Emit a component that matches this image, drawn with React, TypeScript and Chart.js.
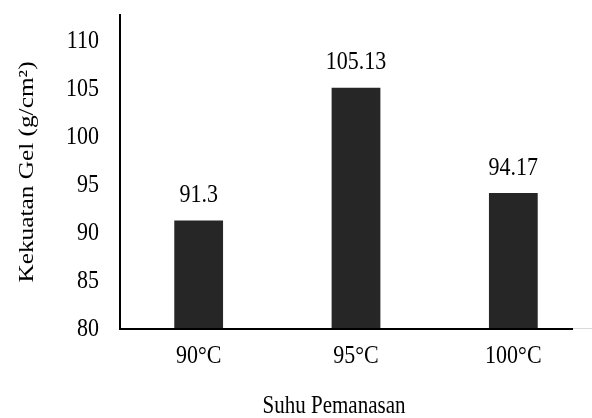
import React, { useEffect, useRef } from "react";
import { Chart, registerables } from "chart.js";

Chart.register(...registerables);

const categories = ["90°C", "95°C", "100°C"];
const gelStrength = [91.3, 105.13, 94.17];
const valueLabels = ["91.3", "105.13", "94.17"];
const yTicks = [80, 85, 90, 95, 100, 105, 110];
const yMin = 80;
const yMax = 112.7;

const FONT = '"Liberation Serif", "Times New Roman", serif';
const TEXT = "#000000";
const BAR = "#262626";
const STRETCH = 1.15; // glyphs are set slightly taller than wide

function drawText(ctx: any, text: string, x: number, y: number, align: string, size = 22) {
  ctx.save();
  ctx.font = `${size}px ${FONT}`;
  ctx.textAlign = align;
  ctx.textBaseline = "middle";
  ctx.translate(x, y);
  ctx.scale(1, STRETCH);
  ctx.fillText(text, 0, 0);
  ctx.restore();
}

const textPlugin = {
  id: "gelText",
  afterDatasetsDraw(chart: any) {
    const ctx = chart.ctx;
    const meta = chart.getDatasetMeta(0);
    const area = chart.chartArea;
    const xs = chart.scales.x;
    const ys = chart.scales.y;
    ctx.save();
    ctx.fillStyle = TEXT;

    // x axis line: light rule across, dark rule under the categories
    ctx.fillStyle = "#d9d9d9";
    ctx.fillRect(area.left, area.bottom - 1, area.right - area.left, 1);
    ctx.fillStyle = "#000000";
    ctx.fillRect(area.left, area.bottom - 1, area.right - area.left - 19, 2);

    ctx.fillStyle = TEXT;
    // value labels above bars
    meta.data.forEach((bar: any, i: number) => {
      drawText(ctx, valueLabels[i], bar.x, bar.y - 25, "center");
    });
    // y tick labels
    yTicks.forEach((v) => {
      drawText(ctx, String(v), area.left - 21, ys.getPixelForValue(v), "right");
    });
    // category labels
    categories.forEach((c, i) => {
      drawText(ctx, c, xs.getPixelForValue(i), area.bottom + 27, "center");
    });
    // x-axis title
    drawText(ctx, "Suhu Pemanasan", (area.left + area.right) / 2 - 22, 407, "center", 21);
    // y-axis title, rotated
    ctx.save();
    ctx.font = `22px ${FONT}`;
    ctx.textAlign = "center";
    ctx.textBaseline = "middle";
    ctx.translate(27, (area.top + area.bottom) / 2);
    ctx.rotate(-Math.PI / 2);
    ctx.scale(STRETCH, 1);
    ctx.fillText("Kekuatan Gel (g/cm²)", 0, 0);
    ctx.restore();

    ctx.restore();
  },
};

export default function App() {
  const ref = useRef<HTMLCanvasElement>(null);

  useEffect(() => {
    if (!ref.current) return;
    const chart = new Chart(ref.current, {
      type: "bar",
      data: {
        labels: categories,
        datasets: [
          {
            data: gelStrength,
            backgroundColor: BAR,
            borderWidth: 0,
            barPercentage: 0.31,
            categoryPercentage: 1,
          },
        ],
      },
      options: {
        responsive: false,
        animation: false,
        devicePixelRatio: 1,
        layout: { padding: { top: 15, right: 0, bottom: 0, left: 0 } },
        plugins: {
          legend: { display: false },
          tooltip: { enabled: false },
        },
        scales: {
          x: {
            grid: { display: false, drawTicks: false },
            border: { display: false },
            ticks: { display: false },
            afterFit(scale: any) {
              scale.height = 89;
              scale.paddingLeft = 0;
              scale.paddingRight = 0;
            },
          },
          y: {
            min: yMin,
            max: yMax,
            grid: { display: false, drawTicks: false },
            border: { display: true, color: "#000000", width: 2 },
            ticks: { display: false, stepSize: 5, includeBounds: false },
            afterFit(scale: any) {
              scale.width = 120;
              scale.paddingTop = 0;
              scale.paddingBottom = 0;
            },
          },
        },
      },
      plugins: [textPlugin],
    });
    return () => chart.destroy();
  }, []);

  return (
    <div style={{ position: "fixed", left: 0, top: 0, width: 592, height: 418, background: "#ffffff" }}>
      <canvas ref={ref} width={592} height={418} />
    </div>
  );
}
